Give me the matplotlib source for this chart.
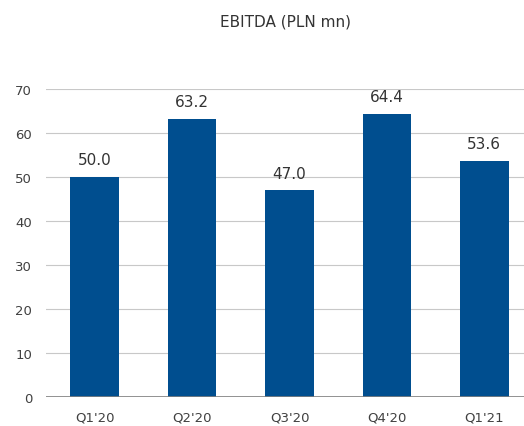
import matplotlib
matplotlib.use("Agg")
import matplotlib.pyplot as plt

plt.rcParams['font.family'] = ['DejaVu Sans']

categories = ["Q1'20", "Q2'20", "Q3'20", "Q4'20", "Q1'21"]
values = [50.0, 63.2, 47.0, 64.4, 53.6]
yticks = [0, 10, 20, 30, 40, 50, 60, 70]

fig = plt.figure(figsize=(5.24, 4.27), dpi=100)
ax = fig.add_axes([46/524, 29/427, 487/524, 308/427])
x = range(len(categories))
ax.bar(x, values, width=0.5, color="#004E8F", zorder=3)
for xi, v in zip(x, values):
    ax.text(xi, v + 2.2, f"{v:.1f}", ha="center", va="bottom", fontsize=11, color="#333333")
ax.set_xlim(-0.5, len(categories) - 0.5)
ax.set_ylim(0, 70)
ax.set_yticks(yticks)
ax.set_xticks(list(x))
ax.set_xticklabels(categories)
ax.grid(axis="y", color="#c8c8c8", linewidth=0.8, zorder=0)
ax.axhline(0, color="#808080", linewidth=1.2, zorder=4)
for s in ax.spines.values():
    s.set_visible(False)
ax.tick_params(axis="both", length=0, labelsize=9.5, colors="#404040")
ax.tick_params(axis="y", pad=10)
ax.tick_params(axis="x", pad=10)
fig.text(286/524, 1 - 22/427, "EBITDA (PLN mn)", ha="center", va="center", fontsize=11, color="#333333")
fig.savefig("out.png", dpi=100)
